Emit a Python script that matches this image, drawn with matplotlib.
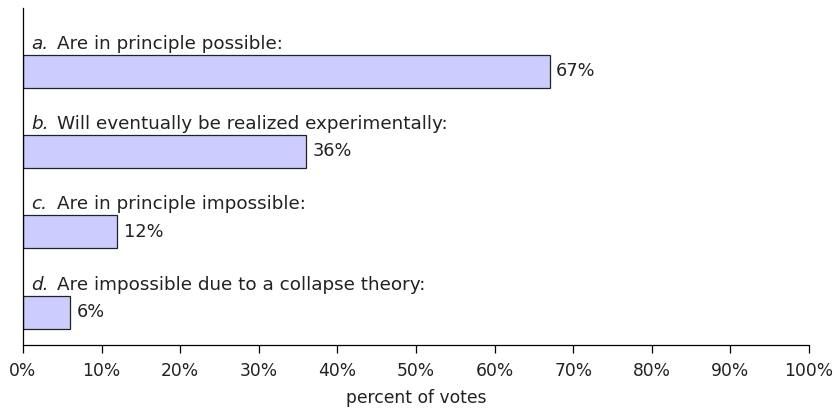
import numpy as np
import matplotlib.pyplot as plt

# survey answers, top to bottom
letters = ['a.', 'b.', 'c.', 'd.']
answers = ['Are in principle possible:',
           'Will eventually be realized experimentally:',
           'Are in principle impossible:',
           'Are impossible due to a collapse theory:']
votes = [67, 36, 12, 6]
xticks = np.arange(0, 101, 10)

fs = 13.2
fig = plt.figure(figsize=(8.34, 4.09), dpi=100)
ax = fig.add_axes([23/834, 1 - 345/409, (809 - 23)/834, (345 - 8)/409])

pos = np.arange(len(votes))[::-1]
ax.barh(pos, votes, height=0.41, color='#ccccff', edgecolor='#222222', linewidth=0.9)

for p, v, l, a in zip(pos, votes, letters, answers):
    ax.text(v + 0.8, p, '%d%%' % v, va='center', ha='left', fontsize=12.8, color='#222222')
    ax.text(1.1, p + 0.28, l, style='italic', va='baseline', ha='left', fontsize=fs, color='#222222')
    ax.text(1.1 + 3.2, p + 0.28, a, va='baseline', ha='left', fontsize=fs, color='#222222')

ax.set_xlim(0, 100)
ax.set_ylim(-0.41, 3.785)
ax.set_xticks(xticks)
ax.set_xticklabels(['%d%%' % t for t in xticks], fontsize=12.3, color='#222222')
ax.set_yticks([])
ax.tick_params(axis='x', direction='out', length=6, width=0.9, pad=6)
ax.spines['top'].set_visible(False)
ax.spines['right'].set_visible(False)
ax.spines['left'].set_linewidth(0.9)
ax.spines['bottom'].set_linewidth(0.9)
ax.set_xlabel('percent of votes', fontsize=12.3, color='#222222', labelpad=7)

fig.savefig('out.png', dpi=100)
